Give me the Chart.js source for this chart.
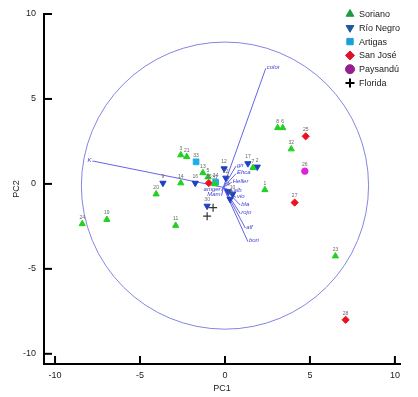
<!DOCTYPE html>
<html>
<head>
<meta charset="utf-8">
<script src="https://cdn.jsdelivr.net/npm/chart.js@4"></script>
<style>
  html, body { margin: 0; padding: 0; background: #fff; }
  #wrap { width: 418px; height: 397px; }
</style>
</head>
<body>
<div id="wrap"><canvas id="pca"></canvas></div>
<script>
// scores (PC1, PC2) per department, with sample ids
const sorianoIds = ['24', '19', '20', '11', '3', '21', '14', '13', '5', '31', '1', '7', '8', '6', '32', '23'];
const sorianoX = [-8.4, -6.95, -4.05, -2.9, -2.6, -2.25, -2.6, -1.3, -1.0, -0.6, 2.35, 1.65, 3.1, 3.4, 3.9, 6.5];
const sorianoY = [-2.35, -2.1, -0.6, -2.45, 1.7, 1.6, 0.05, 0.65, 0.4, 0.0, -0.35, 0.95, 3.3, 3.3, 2.05, -4.25];

const rioNegroIds = ['17', '2', '16', '9', '12', '4', '10', '30', '22', '18'];
const rioNegroX = [1.35, 1.9, -1.75, -3.65, -0.05, 0.2, 0.45, -1.05, 0.05, 0.3];
const rioNegroY = [1.2, 1.0, 0.05, 0.05, 0.9, -0.45, -0.6, -1.3, 0.35, -0.9];

const artigasIds = ['33', '34'];
const artigasX = [-1.7, -0.55];
const artigasY = [1.3, 0.1];

const sanJoseIds = ['25', '27', '28', '35'];
const sanJoseX = [4.75, 4.1, 7.1, -0.95];
const sanJoseY = [2.8, -1.1, -8.0, 0.05];

const paysanduIds = ['26'];
const paysanduX = [4.7];
const paysanduY = [0.75];

const floridaIds = ['', ''];
const floridaX = [-0.7, -1.05];
const floridaY = [-1.4, -1.9];

// variable loadings (scaled to the score space)
const loadNames = ['color', 'K', 'bori', 'alf', 'rojo', 'bla', 'gir', 'Ehca', 'Heller', 'amger', 'Mam', 'alb', 'vio'];
const loadX = [2.4, -7.8, 1.35, 1.2, 0.9, 0.9, 0.65, 0.65, 0.4, -0.2, -0.2, 0.45, 0.65];
const loadY = [6.8, 1.35, -3.4, -2.6, -1.75, -1.25, 1.05, 0.6, 0.1, -0.4, -0.7, -0.45, -0.8];
const loadOrigin = [-0.1, -0.2];
const circleRadius = 8.45;

const tickValues = [-10, -5, 0, 5, 10];

function pts(xs, ys) {
    return xs.map((x, i) => ({ x: x, y: ys[i] }));
}

const groups = [
    { label: 'Soriano', ids: sorianoIds, data: pts(sorianoX, sorianoY), color: '#22d022', legendColor: '#1e9a45', style: 'triangle', rot: 0, r: 3.6 },
    { label: 'Río Negro', ids: rioNegroIds, data: pts(rioNegroX, rioNegroY), color: '#1f3fc4', legendColor: '#1c5a9e', style: 'triangle', rot: 180, r: 3.6 },
    { label: 'Artigas', ids: artigasIds, data: pts(artigasX, artigasY), color: '#19b0ea', legendColor: '#1a9fdc', style: 'rect', rot: 0, r: 4 },
    { label: 'San José', ids: sanJoseIds, data: pts(sanJoseX, sanJoseY), color: '#ee1020', legendColor: '#e0102a', style: 'rectRot', rot: 0, r: 3.6 },
    { label: 'Paysandú', ids: paysanduIds, data: pts(paysanduX, paysanduY), color: '#e020e0', legendColor: '#92208e', style: 'circle', rot: 0, r: 3.2 },
    { label: 'Florida', ids: floridaIds, data: pts(floridaX, floridaY), color: '#333333', legendColor: '#000000', style: 'cross', rot: 0, r: 4 }
];

const biplotPlugin = {
    id: 'biplot',
    beforeDatasetsDraw(chart) {
        const ctx = chart.ctx;
        const xs = chart.scales.x, ys = chart.scales.y;
        ctx.save();
        // correlation circle
        const cx = xs.getPixelForValue(0), cy = ys.getPixelForValue(-0.1);
        const rx = xs.getPixelForValue(circleRadius) - xs.getPixelForValue(0);
        const ry = ys.getPixelForValue(0) - ys.getPixelForValue(circleRadius);
        ctx.strokeStyle = '#8484e4';
        ctx.lineWidth = 1;
        ctx.beginPath();
        ctx.ellipse(cx, cy, rx, ry, 0, 0, Math.PI * 2);
        ctx.stroke();
        // loading vectors
        const ox = xs.getPixelForValue(loadOrigin[0]), oy = ys.getPixelForValue(loadOrigin[1]);
        ctx.strokeStyle = '#6464e6';
        ctx.fillStyle = '#3c3cd6';
        ctx.font = 'italic 6px "Liberation Sans", Arial, sans-serif';
        ctx.textBaseline = 'bottom';
        loadNames.forEach((name, i) => {
            const px = xs.getPixelForValue(loadX[i]), py = ys.getPixelForValue(loadY[i]);
            ctx.beginPath();
            ctx.moveTo(ox, oy);
            ctx.lineTo(px, py);
            ctx.stroke();
            ctx.textAlign = loadX[i] < loadOrigin[0] ? 'right' : 'left';
            ctx.fillText(name, px + (loadX[i] < loadOrigin[0] ? -1 : 1), py + 2);
        });
        ctx.restore();
    },
    afterDatasetsDraw(chart) {
        const ctx = chart.ctx;
        ctx.save();
        ctx.fillStyle = '#666';
        ctx.font = '5px "Liberation Sans", Arial, sans-serif';
        ctx.textAlign = 'center';
        ctx.textBaseline = 'bottom';
        chart.data.datasets.forEach((ds, di) => {
            const meta = chart.getDatasetMeta(di);
            meta.data.forEach((el, i) => {
                const id = groups[di].ids[i];
                if (id) ctx.fillText(id, el.x, el.y - 4);
            });
        });
        ctx.restore();
    },
    afterDraw(chart) {
        const ctx = chart.ctx;
        const xs = chart.scales.x, ys = chart.scales.y;
        const area = chart.chartArea;
        ctx.save();
        // inward tick marks
        ctx.strokeStyle = '#000';
        ctx.lineWidth = 2;
        tickValues.forEach(v => {
            const px = xs.getPixelForValue(v);
            ctx.beginPath();
            ctx.moveTo(px, area.bottom);
            ctx.lineTo(px, area.bottom - 8);
            ctx.stroke();
            const py = ys.getPixelForValue(v);
            ctx.beginPath();
            ctx.moveTo(area.left, py);
            ctx.lineTo(area.left + 8, py);
            ctx.stroke();
        });
        // legend
        ctx.font = '9px "Liberation Sans", Arial, sans-serif';
        ctx.textAlign = 'left';
        ctx.textBaseline = 'middle';
        groups.forEach((g, i) => {
            const ly = 14 + i * 13.8;
            ctx.fillStyle = g.legendColor;
            ctx.strokeStyle = g.legendColor;
            ctx.lineWidth = g.style === 'cross' ? 2 : 1;
            Chart.helpers.drawPoint(ctx, { pointStyle: g.style, radius: 4.5, rotation: g.rot, borderWidth: ctx.lineWidth }, 350, ly);
            ctx.fillStyle = '#1a1a1a';
            ctx.fillText(g.label, 359, ly + 0.5);
        });
        ctx.restore();
    }
};

new Chart(document.getElementById('pca'), {
    type: 'scatter',
    data: {
        datasets: groups.map(g => ({
            label: g.label,
            data: g.data,
            pointStyle: g.style,
            rotation: g.rot,
            radius: g.r,
            backgroundColor: g.color,
            borderColor: g.color,
            borderWidth: g.style === 'cross' ? 1.2 : 1
        }))
    },
    options: {
        responsive: true,
        maintainAspectRatio: false,
        animation: false,
        layout: { padding: { top: 14, right: 18, left: 0, bottom: 0 } },
        plugins: {
            legend: { display: false },
            tooltip: { enabled: false }
        },
        scales: {
            x: {
                type: 'linear',
                min: -10.65,
                max: 10.3,
                afterBuildTicks: s => { s.ticks = tickValues.map(v => ({ value: v })); },
                afterFit: s => { s.height = 33; },
                grid: { display: true, drawOnChartArea: false, drawTicks: false },
                border: { display: true, color: '#000', width: 2 },
                ticks: { padding: 6, color: '#222', font: { family: '"Liberation Sans", Arial, sans-serif', size: 9 } },
                title: { display: true, text: 'PC1', color: '#222', padding: { top: 0, bottom: 3 }, font: { family: '"Liberation Sans", Arial, sans-serif', size: 9 } }
            },
            y: {
                type: 'linear',
                min: -10.6,
                max: 10,
                afterBuildTicks: s => { s.ticks = tickValues.map(v => ({ value: v })); },
                afterFit: s => { s.width = 44; },
                grid: { display: true, drawOnChartArea: false, drawTicks: false },
                border: { display: true, color: '#000', width: 2 },
                ticks: { padding: 8, color: '#222', font: { family: '"Liberation Sans", Arial, sans-serif', size: 9 } },
                title: { display: true, text: 'PC2', color: '#222', padding: { top: 11, bottom: 0 }, font: { family: '"Liberation Sans", Arial, sans-serif', size: 9 } }
            }
        }
    },
    plugins: [biplotPlugin]
});
</script>
</body>
</html>
